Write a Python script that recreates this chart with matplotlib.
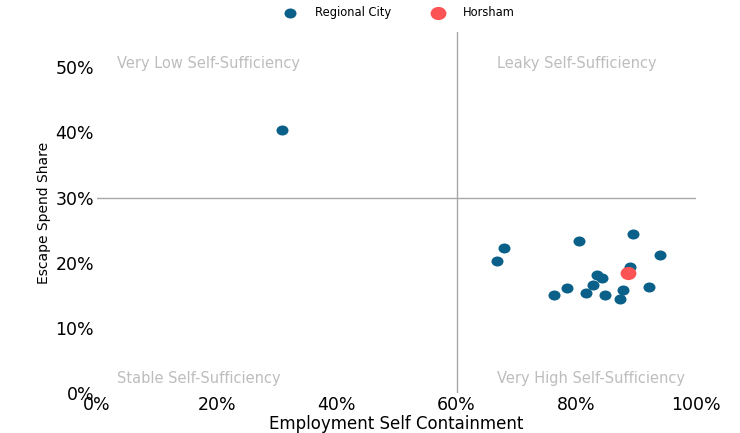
"""
Self-sufficiency quadrant chart: employment self containment vs escape spend share.
"""

import matplotlib
matplotlib.use("Agg")
import matplotlib.pyplot as plt
from matplotlib.path import Path
from matplotlib.ticker import PercentFormatter

# Regional cities (percent)
city_containment = [30.9, 67.9, 66.8, 80.5, 89.5, 94.0, 88.9, 83.4, 84.2, 82.7,
                    78.4, 92.1, 87.8, 76.2, 81.6, 84.7, 87.3]
city_escape = [40.3, 22.3, 20.2, 23.4, 24.4, 21.2, 19.4, 18.1, 17.7, 16.6,
               16.2, 16.3, 15.8, 15.1, 15.3, 15.1, 14.4]

# Horsham (percent)
horsham_containment = [88.6]
horsham_escape = [18.5]

# Quadrant split points
x_split = 60
y_split = 30

quadrant_labels = {
    "Very Low Self-Sufficiency": (3.3, 50.6),
    "Leaky Self-Sufficiency": (66.8, 50.6),
    "Stable Self-Sufficiency": (3.3, 2.3),
    "Very High Self-Sufficiency": (66.8, 2.3),
}

CITY_COLOR = "#0a6088"
HORSHAM_COLOR = "#fc5454"
LINE_COLOR = "#a8a8a8"

# slightly wide oval marker
_circle = Path.unit_circle()
OVAL = Path(_circle.vertices * [1.2, 1.0], _circle.codes)


def main():
    fig = plt.figure(figsize=(7.4, 4.33), dpi=100)
    ax = fig.add_axes([0.131, 0.092, 0.81, 0.834])

    ax.axhline(y_split, color=LINE_COLOR, linewidth=1, zorder=1)
    ax.axvline(x_split, color=LINE_COLOR, linewidth=1, zorder=1)

    ax.scatter(city_containment, city_escape, s=75, marker=OVAL, color=CITY_COLOR,
               linewidths=0, label="Regional City", zorder=3)
    ax.scatter(horsham_containment, horsham_escape, s=130, marker=OVAL,
               color=HORSHAM_COLOR, linewidths=0, label="Horsham", zorder=4)

    for text, (x, y) in quadrant_labels.items():
        ax.text(x, y, text, color="#bdbdbd", fontsize=10.5, va="center", ha="left")

    ax.set_xlim(0, 100)
    ax.set_ylim(0, 55.4)
    ax.set_xticks([0, 20, 40, 60, 80, 100])
    ax.set_yticks([0, 10, 20, 30, 40, 50])
    ax.xaxis.set_major_formatter(PercentFormatter(decimals=0))
    ax.yaxis.set_major_formatter(PercentFormatter(decimals=0))
    ax.tick_params(length=0, labelsize=12.5, pad=2)

    for spine in ax.spines.values():
        spine.set_visible(False)

    ax.set_xlabel("Employment Self Containment", fontsize=12, labelpad=1)
    ax.set_ylabel("Escape Spend Share", fontsize=10, labelpad=3)

    ax.legend(loc="lower center", bbox_to_anchor=(0.5, 1.02), ncol=2,
              frameon=False, fontsize=8.3, columnspacing=3, handletextpad=1.2,
              borderaxespad=0.1)

    fig.savefig("out.png", dpi=100)


if __name__ == "__main__":
    main()
